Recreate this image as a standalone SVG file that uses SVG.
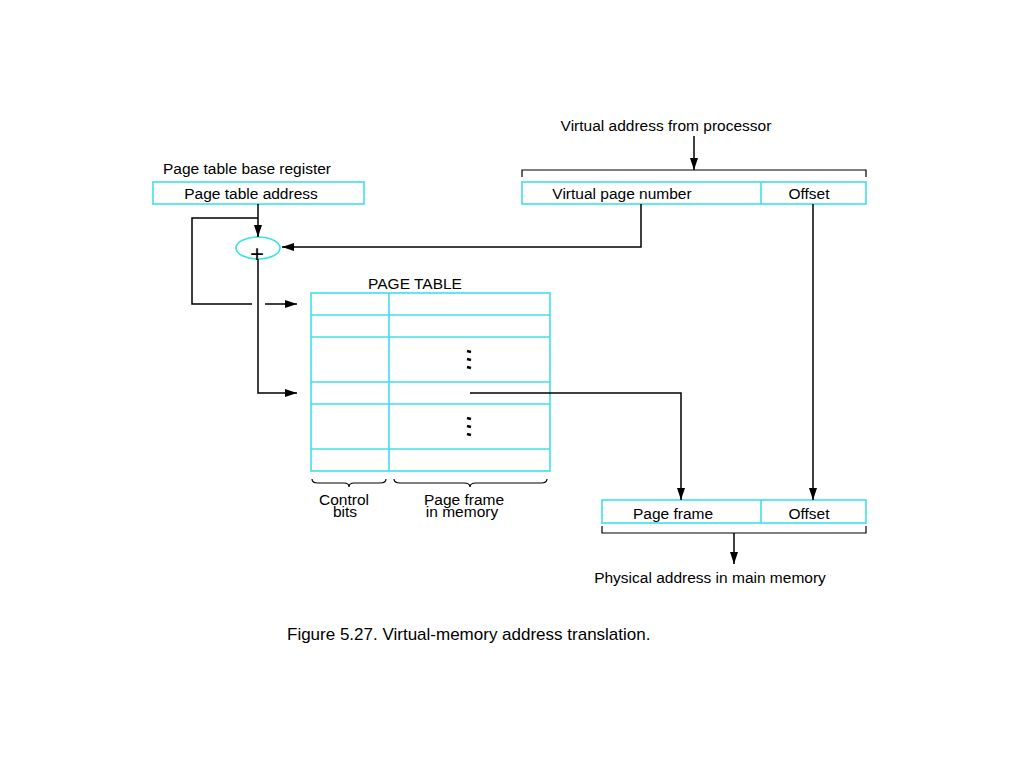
<svg xmlns="http://www.w3.org/2000/svg" width="1024" height="768" viewBox="0 0 1024 768">
<style>
  text { font-family: "Liberation Sans", Arial, sans-serif; font-size: 15.5px; fill: #000; }
  .box { fill: none; stroke: #3ee0e8; stroke-width: 1.6; }
  .ln { fill: none; stroke: #000; stroke-width: 1.5; }
  .arr { fill: none; stroke: #000; stroke-width: 1.5; marker-end: url(#ah); }
  .br { fill: none; stroke: #000; stroke-width: 1.2; }
  .c { text-anchor: middle; }
  .plus { font-size: 24px; }
</style>
<defs>
  <marker id="ah" viewBox="0 0 12 8" refX="12" refY="4" markerWidth="12" markerHeight="8" markerUnits="userSpaceOnUse" orient="auto">
    <path d="M0,0 L12,4 L0,8 Z" fill="#000"/>
  </marker>
</defs>
<rect width="1024" height="768" fill="#fff"/>

<g id="ptbr">
  <text x="163" y="174">Page table base register</text>
  <rect class="box" x="153" y="182" width="211" height="22"/>
  <text class="c" x="251" y="199">Page table address</text>
</g>

<g id="vaddr">
  <text class="c" x="666" y="131">Virtual address from processor</text>
  <path class="br" d="M522,177 V170 H866 V177"/>
  <rect class="box" x="522" y="182" width="344" height="22"/>
  <line class="box" x1="761" y1="182" x2="761" y2="204"/>
  <text class="c" x="622" y="199">Virtual page number</text>
  <text class="c" x="809" y="199">Offset</text>
</g>

<g id="adder">
  <ellipse class="box" cx="258" cy="248" rx="22" ry="11"/>
  <text class="c plus" x="257" y="262">+</text>
</g>

<g id="pagetable">
  <text class="c" x="415" y="289">PAGE TABLE</text>
  <rect class="box" x="311" y="293" width="239" height="178"/>
  <line class="box" x1="389" y1="293" x2="389" y2="471"/>
  <line class="box" x1="311" y1="315" x2="550" y2="315"/>
  <line class="box" x1="311" y1="337" x2="550" y2="337"/>
  <line class="box" x1="311" y1="382" x2="550" y2="382"/>
  <line class="box" x1="311" y1="404" x2="550" y2="404"/>
  <line class="box" x1="311" y1="449" x2="550" y2="449"/>
  <g stroke="#000" stroke-width="2.5">
    <line x1="467" y1="351" x2="471" y2="352"/>
    <line x1="467" y1="359" x2="471" y2="360"/>
    <line x1="467" y1="367" x2="471" y2="368"/>
    <line x1="467" y1="418" x2="471" y2="419"/>
    <line x1="467" y1="426" x2="471" y2="427"/>
    <line x1="467" y1="434" x2="471" y2="435"/>
  </g>
  <path class="br" d="M312,479 Q312,483 318,483 H344 Q349,483 349,487 Q349,483 354,483 H380 Q386,483 386,479"/>
  <path class="br" d="M394,479 Q394,483 400,483 H464 Q470,483 470,487 Q470,483 476,483 H541 Q547,483 547,479"/>
  <text class="c" x="344" y="505">Control</text>
  <text class="c" x="345" y="517">bits</text>
  <text class="c" x="464" y="505">Page frame</text>
  <text class="c" x="462" y="517">in memory</text>
</g>

<g id="paddr">
  <rect class="box" x="602" y="500" width="264" height="23"/>
  <line class="box" x1="761" y1="500" x2="761" y2="523"/>
  <text class="c" x="673" y="519">Page frame</text>
  <text class="c" x="809" y="519">Offset</text>
  <path class="br" d="M602,526 V533 H866 V526"/>
  <text class="c" x="710" y="583">Physical address in main memory</text>
</g>

<g id="caption">
  <text x="287" y="640" style="font-size:17px">Figure 5.27. Virtual-memory address translation.</text>
</g>

<g id="connectors">
  <line class="arr" x1="694" y1="136" x2="694" y2="170"/>
  <line class="arr" x1="258" y1="204" x2="258" y2="237"/>
  <path class="ln" d="M258,218 H192 V304 H252"/>
  <line class="arr" x1="265" y1="304" x2="297" y2="304"/>
  <path class="arr" d="M641,204 V247 H282"/>
  <path class="arr" d="M258,259 V393 H297"/>
  <path class="arr" d="M470,393 H681 V500"/>
  <line class="arr" x1="813" y1="204" x2="813" y2="500"/>
  <line class="arr" x1="734" y1="533" x2="734" y2="564"/>
</g>
</svg>
